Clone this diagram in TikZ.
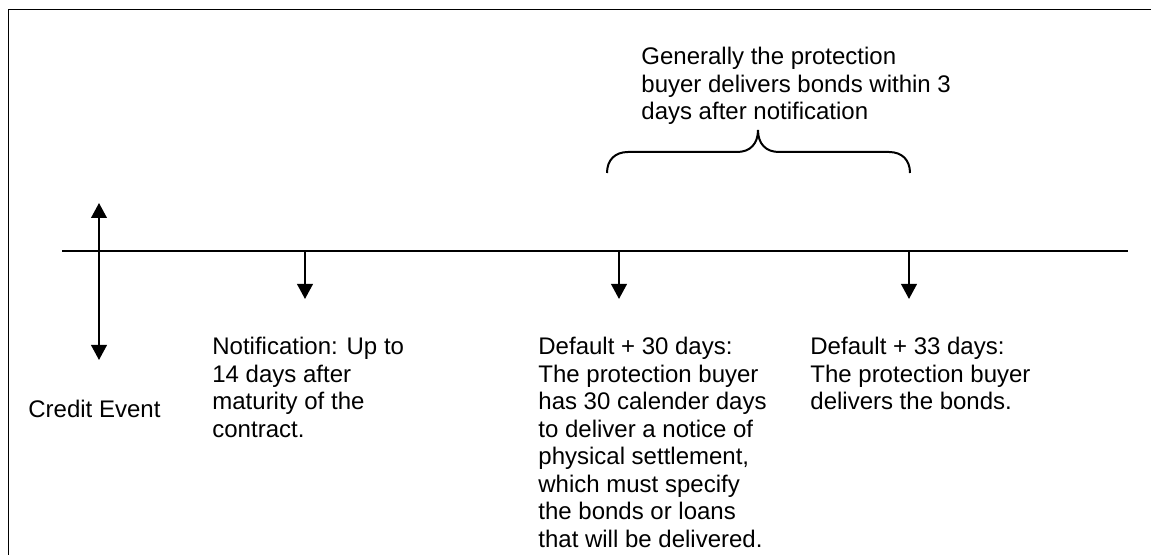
\documentclass[tikz,border=0pt]{standalone}
\usepackage{fontspec}
\setmainfont{Liberation Sans}
\usepackage{tikz}
\usetikzlibrary{arrows.meta, positioning}
\tikzset{
    x=0.5pt, y=-0.5pt, % one unit is one pixel, y runs downwards
    >={Triangle[length=7.5pt, width=7.8pt]}, % filled arrow heads
    txt/.style={anchor=north west, inner sep=0pt, align=left, font=\fontsize{12}{13.75}\selectfont}, % the notes
}
\tikzstyle{arrow} = [line width=1pt, ->]
\tikzstyle{both} = [line width=1pt, <->]

\begin{document}
\begin{tikzpicture}
    \useasboundingbox (0,0) rectangle (1151,555);
    \draw[line width=0.8pt] (8.5,555) -- (8.5,9.5) -- (1151,9.5);

    % timeline and its marks
    \coordinate (t0) at (62,251);
    \coordinate (t1) at (1128,251);
    \coordinate (ev up) at (99,203);
    \coordinate (ev down) at (99,360);
    \coordinate (n0) at (305,251);
    \coordinate (n1) at (305,299);
    \coordinate (d0) at (619,251);
    \coordinate (d1) at (619,299);
    \coordinate (e0) at (909,251);
    \coordinate (e1) at (909,299);

    \draw[line width=1pt] (t0) -- (t1);
    \draw[both] (ev up) -- (ev down);
    \draw[arrow] (n0) -- (n1);
    \draw[arrow] (d0) -- (d1);
    \draw[arrow] (e0) -- (e1);

    % brace over the delivery period
    \coordinate (bl) at (607,173);
    \coordinate (br) at (910,173);
    \coordinate (btip) at (758,130);
    \draw[line width=1pt] (bl) .. controls (607,160) and (615,152) .. (628,152) -- (737,152)
        .. controls (750,152) and (758,144) .. (btip)
        .. controls (758,144) and (766,152) .. (779,152) -- (889,152)
        .. controls (902,152) and (910,160) .. (br);

    \node[txt] (note) at (641,47) {Generally the protection\\buyer delivers bonds within 3\\days after notification};
    \node[txt] (credit) at (28,400) {Credit Event};
    \node[txt] (notice) at (212,337) {Notification: Up to\\14 days after\\maturity of the\\contract.};
    \node[txt] (dflt30) at (538,337) {Default + 30 days:\\The protection buyer\\has 30 calender days\\to deliver a notice of\\physical settlement,\\which must specify\\the bonds or loans\\that will be delivered.};
    \node[txt] (dflt33) at (810,337) {Default + 33 days:\\The protection buyer\\delivers the bonds.};
\end{tikzpicture}
\end{document}
